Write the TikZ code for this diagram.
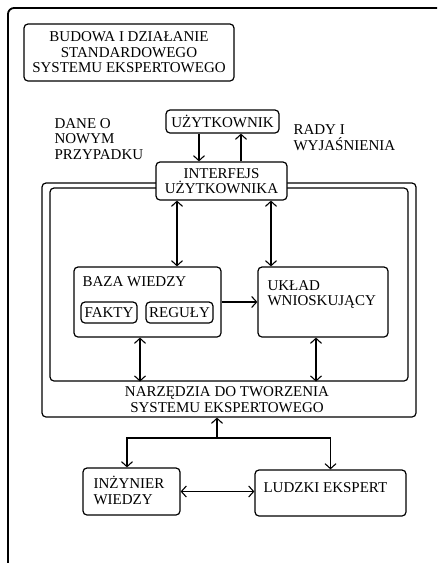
\documentclass[tikz,border=0pt]{standalone}
\usepackage{fontspec}
\setmainfont{Liberation Serif}
\usetikzlibrary{arrows.meta}

\tikzset{
  box/.style={draw,line width=1.2pt,rounded corners=4pt,fill=white,inner sep=0pt},
  txt/.style={align=center,inner sep=0pt,font=\fontsize{15}{15.5}\selectfont},
  ltxt/.style={txt,align=left,anchor=west},
}

\begin{document}
\begin{tikzpicture}[x=1pt,y=-1pt,>={Straight Barb[length=5pt,width=11pt]},line width=1.1pt]
\useasboundingbox (0,0) rectangle (439,563);

% outer frame
\draw[line width=1.8pt,rounded corners=6pt] (8,563) |- (437,8);

% title
\node[box,minimum width=210pt,minimum height=57pt,txt] (title) at (129,52.5)
  {BUDOWA I DZIAŁANIE\\STANDARDOWEGO\\SYSTEMU EKSPERTOWEGO};

% user and interface
\node[box,minimum width=113pt,minimum height=23pt,txt] (uzyt) at (222.5,121.5) {UŻYTKOWNIK};
\node[ltxt] (dane) at (54,139) {DANE O\\NOWYM\\PRZYPADKU};
\node[ltxt] (rady) at (293,137.5) {RADY I\\WYJAŚNIENIA};

% tools frame (outer and inner)
\node[box,fill=none,minimum width=374pt,minimum height=234pt] (narz) at (229,300) {};
\node[box,fill=none,minimum width=358pt,minimum height=193pt] (inner) at (229,284.5) {};
\node[txt] (narztxt) at (227,399.5) {NARZĘDZIA DO TWORZENIA\\SYSTEMU EKSPERTOWEGO};

\node[box,minimum width=131pt,minimum height=38pt,txt] (interf) at (221.5,181)
  {INTERFEJS\\UŻYTKOWNIKA};

% knowledge base and inference engine
\node[box,minimum width=147pt,minimum height=70pt] (baza) at (147.5,302) {};
\node[ltxt] (bazatxt) at (82,282) {BAZA WIEDZY};
\node[box,minimum width=56pt,minimum height=21pt,txt] (fakty) at (109,312.5) {FAKTY};
\node[box,minimum width=67pt,minimum height=21pt,txt] (reguly) at (179.5,312.5) {REGUŁY};
\node[box,minimum width=130pt,minimum height=70pt] (uklad) at (323,302) {};
\node[ltxt] (ukladtxt) at (267,294.5) {UKŁAD\\WNIOSKUJĄCY};

% people
\node[box,minimum width=97pt,minimum height=47pt] (inz) at (131.5,491.5) {};
\node[ltxt] (inztxt) at (93,490.5) {INŻYNIER\\WIEDZY};
\node[box,minimum width=151pt,minimum height=46pt] (ludzki) at (330.5,493) {};
\node[ltxt] (ludzkitxt) at (263,488) {LUDZKI EKSPERT};

% connectors
\draw[->] ([xshift=-23.5pt]uzyt.south) -- ([xshift=-23.5pt]uzyt.south |- interf.north);
\draw[->] ([xshift=19.5pt]interf.north) -- ([xshift=19.5pt]interf.north |- uzyt.south);
\draw[<->] ([xshift=-44.5pt]interf.south) -- ([xshift=-44.5pt]interf.south |- baza.north);
\draw[<->] ([xshift=49.5pt]interf.south) -- ([xshift=49.5pt]interf.south |- uklad.north);
\draw[->] (baza.east) -- (uklad.west);
\draw[<->] ([xshift=-7.5pt]baza.south) -- ([xshift=-7.5pt]baza.south |- inner.south);
\draw[<->] ([xshift=-7pt]uklad.south) -- ([xshift=-7pt]uklad.south |- inner.south);

\coordinate (split) at (217,438);
\draw[->] (split) -- (split |- narz.south);
\draw[->] (split) -| ([xshift=-4.5pt]inz.north);
\draw[->] (split) -| (ludzki.north);
\draw[<->] (inz.east) -- (inz.east -| ludzki.west);

\end{tikzpicture}
\end{document}
